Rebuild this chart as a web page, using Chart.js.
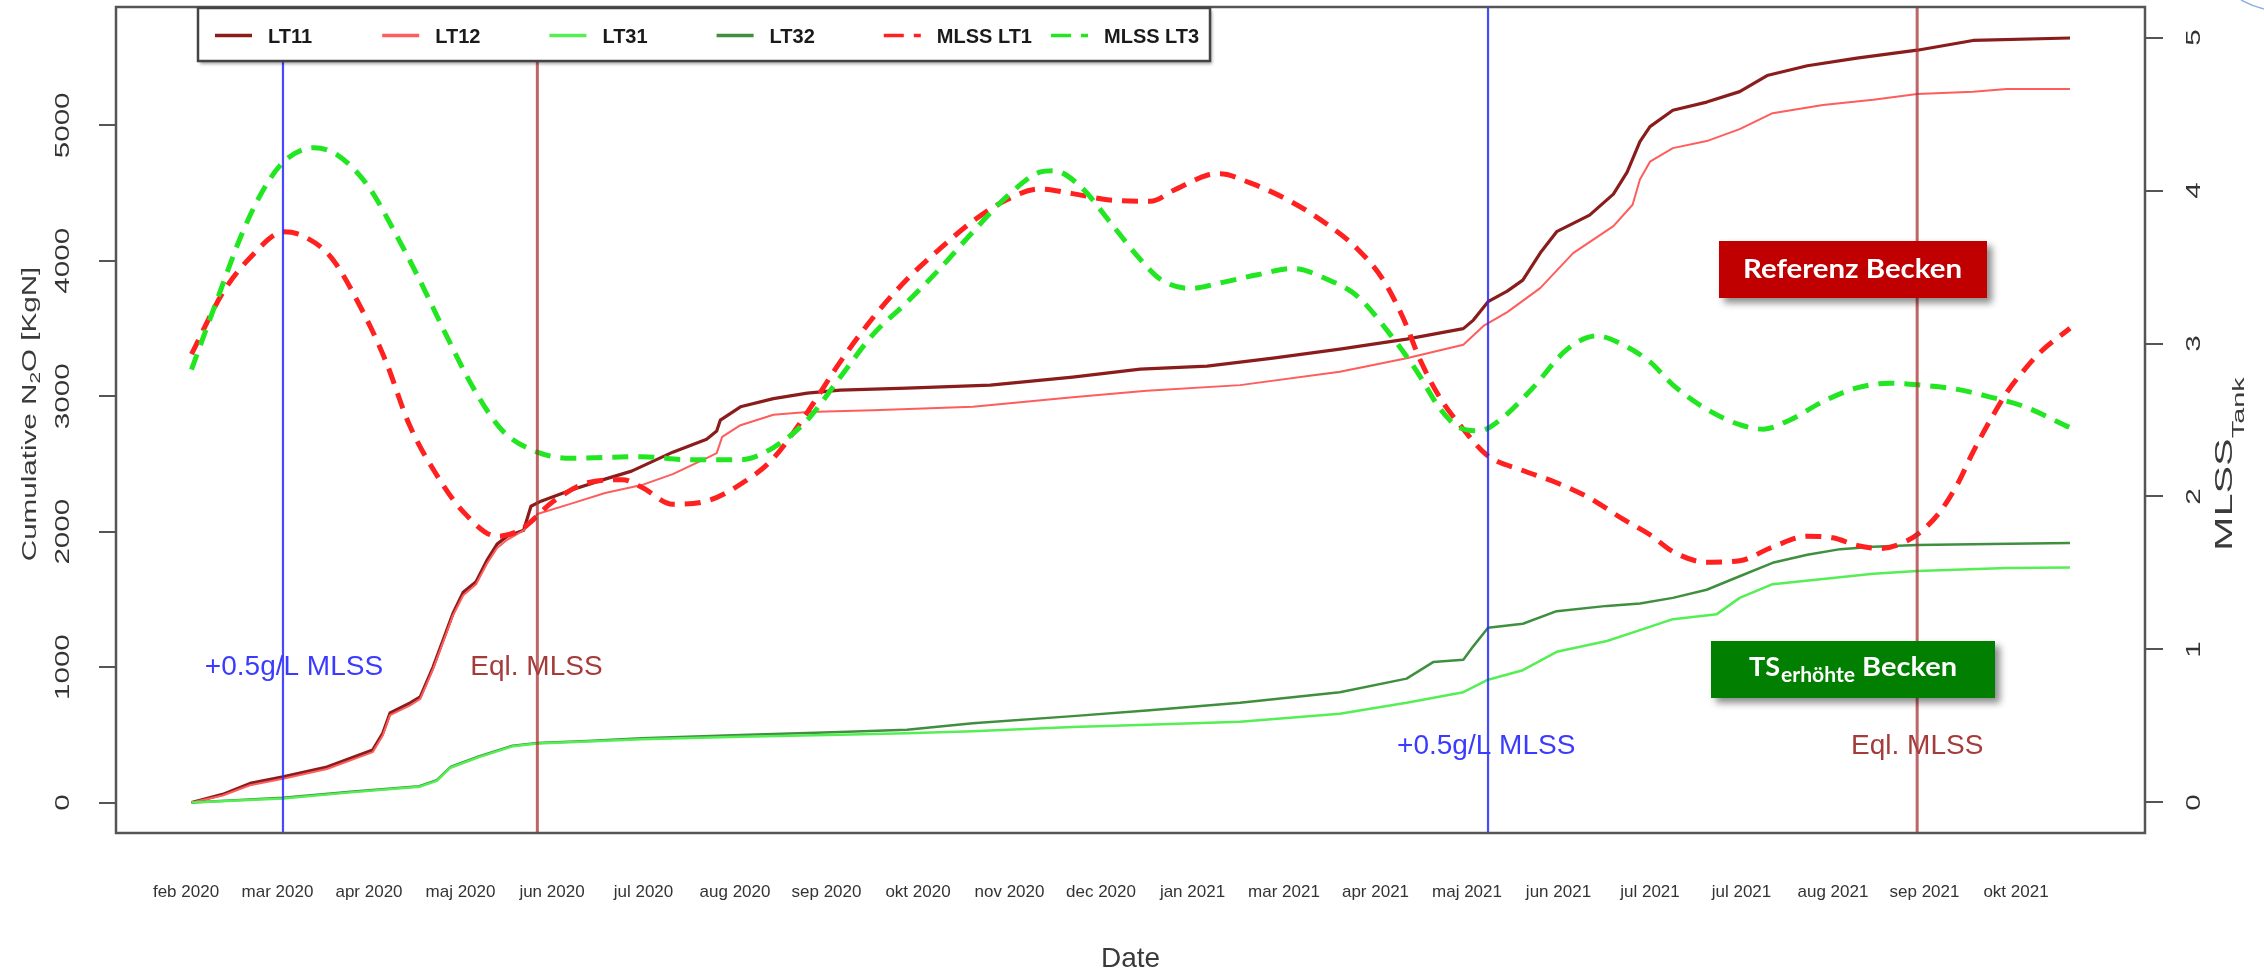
<!DOCTYPE html>
<html>
<head>
<meta charset="utf-8">
<script src="https://cdn.jsdelivr.net/npm/chart.js@4.4.1/dist/chart.umd.min.js"></script>
<style>
  html, body { margin: 0; padding: 0; background: #fff; }
  #wrap { width: 2264px; height: 979px; }
</style>
</head>
<body>
<div id="wrap"><canvas id="c" width="2264" height="979"></canvas></div>
<script>
// Axis tick labels (one per tick position 0..20 on the time axis)
const tickLabels = ['feb 2020', 'mar 2020', 'apr 2020', 'maj 2020', 'jun 2020', 'jul 2020', 'aug 2020',
  'sep 2020', 'okt 2020', 'nov 2020', 'dec 2020', 'jan 2021', 'mar 2021', 'apr 2021', 'maj 2021',
  'jun 2021', 'jul 2021', 'jul 2021', 'aug 2021', 'sep 2021', 'okt 2021'];
const leftTicks = [0, 1000, 2000, 3000, 4000, 5000];
const rightTicks = [0, 1, 2, 3, 4, 5];

// Cumulative N2O [kgN] per tank: [time position, value]
const lt11 = [[0.06,0],[0.40,60],[0.70,141],[1.06,189],[1.54,262],[2.04,387],[2.15,511],[2.23,661],[2.45,736],
  [2.56,780],[2.70,1000],[2.81,1200],[2.92,1400],[3.03,1553],[3.17,1630],[3.29,1790],[3.40,1908],[3.51,1967],
  [3.69,2011],[3.77,2188],[3.88,2225],[4.21,2307],[4.58,2388],[4.87,2447],[5.32,2587],[5.69,2683],[5.80,2743],
  [5.84,2824],[6.06,2922],[6.42,2982],[6.79,3023],[7.15,3045],[7.88,3060],[8.79,3082],[9.69,3141],[10.43,3200],
  [11.16,3222],[11.88,3281],[12.61,3348],[13.34,3422],[13.96,3499],[14.07,3562],[14.23,3698],[14.44,3776],
  [14.61,3857],[14.80,4057],[14.98,4215],[15.34,4337],[15.60,4492],[15.75,4655],[15.89,4880],[16.00,4991],
  [16.25,5112],[16.62,5172],[16.98,5249],[17.28,5368],[17.72,5440],[18.26,5496],[18.92,5555],[19.53,5627],
  [20.59,5645]];
const lt12 = [[0.06,0],[0.40,52],[0.70,128],[1.06,176],[1.54,248],[2.04,372],[2.15,495],[2.23,645],[2.45,718],
  [2.56,765],[2.70,985],[2.81,1185],[2.92,1385],[3.03,1530],[3.17,1612],[3.29,1765],[3.40,1880],[3.51,1940],
  [3.69,2010],[3.84,2130],[4.21,2207],[4.58,2285],[4.98,2344],[5.32,2425],[5.69,2543],[5.80,2580],[5.86,2700],
  [6.06,2786],[6.42,2863],[6.79,2883],[7.51,2897],[8.60,2922],[9.69,2993],[10.50,3040],[11.52,3082],
  [12.61,3181],[13.34,3281],[13.96,3380],[14.18,3519],[14.44,3621],[14.80,3798],[15.16,4057],[15.60,4256],
  [15.81,4414],[15.89,4600],[16.00,4732],[16.25,4832],[16.62,4884],[16.98,4972],[17.34,5090],[17.89,5150],
  [18.44,5189],[18.92,5231],[19.53,5249],[19.90,5268],[20.59,5268]];
const lt31 = [[0.06,0],[1.06,30],[1.80,75],[2.55,116],[2.74,160],[2.89,257],[3.20,335],[3.57,415],[3.84,435],
  [4.39,450],[4.98,468],[6.06,485],[7.15,500],[7.88,512],[8.60,527],[9.69,557],[10.50,575],[11.52,597],
  [12.61,656],[13.34,736],[13.96,815],[14.23,907],[14.61,977],[14.98,1113],[15.53,1193],[15.89,1273],
  [16.25,1354],[16.73,1391],[16.98,1511],[17.34,1612],[17.89,1650],[18.44,1690],[18.92,1710],[19.90,1731],
  [20.59,1735]];
const lt32 = [[0.06,0],[1.06,35],[1.80,80],[2.55,121],[2.74,165],[2.89,262],[3.20,340],[3.57,420],[3.84,440],
  [4.39,455],[4.98,475],[6.06,498],[7.15,520],[7.88,537],[8.60,586],[9.69,638],[10.50,680],[11.52,736],
  [12.61,815],[13.34,915],[13.63,1037],[13.96,1054],[14.07,1155],[14.23,1290],[14.61,1320],[14.98,1413],
  [15.53,1452],[15.89,1470],[16.25,1511],[16.62,1571],[16.98,1671],[17.34,1770],[17.72,1829],[18.08,1871],
  [18.44,1889],[18.92,1901],[19.72,1908],[20.59,1917]];

// Mixed liquor suspended solids per tank [g/L]: [time position, value]
const mlssLT1 = [[0.06,2.93],[0.40,3.33],[0.70,3.56],[1.07,3.73],[1.29,3.70],[1.59,3.56],[1.88,3.27],[2.18,2.89],
  [2.44,2.47],[2.73,2.15],[3.03,1.90],[3.40,1.74],[3.65,1.78],[4.02,1.97],[4.39,2.09],[4.77,2.11],[4.98,2.06],
  [5.32,1.95],[5.69,1.97],[6.06,2.08],[6.42,2.25],[6.79,2.55],[7.15,2.88],[7.51,3.17],[7.88,3.42],[8.24,3.62],
  [8.60,3.80],[8.97,3.94],[9.33,4.01],[9.69,3.98],[10.07,3.94],[10.54,3.93],[10.79,4.00],[11.16,4.10],
  [11.30,4.11],[11.63,4.05],[12.07,3.93],[12.47,3.78],[12.80,3.62],[13.08,3.42],[13.30,3.17],[13.49,2.89],
  [13.71,2.64],[13.92,2.47],[14.22,2.27],[14.61,2.17],[14.98,2.09],[15.34,1.99],[15.71,1.85],[16.00,1.75],
  [16.25,1.64],[16.62,1.57],[16.98,1.58],[17.34,1.67],[17.72,1.74],[18.00,1.73],[18.26,1.68],[18.51,1.66],
  [18.81,1.71],[18.98,1.78],[19.17,1.90],[19.36,2.08],[19.53,2.29],[19.72,2.50],[19.90,2.68],[20.08,2.82],
  [20.26,2.94],[20.59,3.10]];
const mlssLT3 = [[0.06,2.83],[0.33,3.27],[0.62,3.73],[0.85,4.01],[1.07,4.19],[1.40,4.28],[1.66,4.23],[1.99,4.03],
  [2.28,3.73],[2.55,3.42],[2.84,3.06],[3.14,2.71],[3.46,2.43],[3.84,2.29],[4.21,2.25],[4.98,2.26],[5.51,2.24],
  [6.06,2.24],[6.42,2.32],[6.79,2.50],[7.15,2.78],[7.51,3.06],[7.88,3.27],[8.24,3.49],[8.60,3.73],[8.97,3.96],
  [9.33,4.12],[9.48,4.13],[9.77,4.03],[10.13,3.77],[10.43,3.55],[10.65,3.42],[10.97,3.36],[11.33,3.40],
  [11.71,3.45],[12.10,3.49],[12.47,3.42],[12.80,3.31],[13.16,3.06],[13.45,2.82],[13.71,2.57],[13.92,2.45],
  [14.14,2.43],[14.36,2.50],[14.72,2.71],[15.09,2.96],[15.42,3.05],[15.71,2.99],[16.00,2.88],[16.25,2.73],
  [16.62,2.57],[16.98,2.47],[17.24,2.44],[17.53,2.50],[17.89,2.62],[18.26,2.71],[18.62,2.74],[18.92,2.73],
  [19.36,2.70],[19.72,2.65],[20.08,2.59],[20.59,2.45]];

// Operational events on the time axis and their captions
const eventAt = [1.06, 3.84, 14.23, 18.92];
const eventKind = ['add', 'eq', 'add', 'eq'];
const captionText = ['+0.5g/L MLSS', 'Eql. MLSS', '+0.5g/L MLSS', 'Eql. MLSS'];
const captionAt = [1.18, 3.83, 14.21, 18.92];
const captionLevel = [1000, 1000, 415, 415];

const SANS = '"Liberation Sans", Arial, sans-serif';
const BOXFONT = 'Lato, "Open Sans", sans-serif';

const toXY = arr => arr.map(p => ({ x: p[0], y: p[1] }));

const style = {
  add: { line: 'rgba(40,40,255,0.85)', text: '#3b3bff', width: 2.2 },
  eq:  { line: 'rgba(170,50,50,0.75)', text: '#a53c3c', width: 3 }
};

// Draws text rotated to read bottom-to-top, stretched along the reading direction
function upText(ctx, parts, bx, cy, stretch, anchor) {
  ctx.save();
  let total = 0;
  parts.forEach(p => { ctx.font = p.font; p.w = ctx.measureText(p.text).width; total += p.w; });
  ctx.translate(bx, cy);
  ctx.rotate(-Math.PI / 2);
  ctx.scale(stretch, 1);
  let x = anchor === 'start' ? 0 : -total / 2;
  parts.forEach(p => {
    ctx.font = p.font; ctx.fillStyle = p.color; ctx.textAlign = 'left'; ctx.textBaseline = 'alphabetic';
    ctx.fillText(p.text, x, p.dy || 0);
    x += p.w;
  });
  ctx.restore();
}

// Draws text squeezed/stretched horizontally to a given width, starting at x
function fitText(ctx, text, x, baseline, font, width, color) {
  ctx.save();
  ctx.font = font;
  const w = ctx.measureText(text).width;
  ctx.translate(x, baseline);
  ctx.scale(width / w, 1);
  ctx.fillStyle = color; ctx.textAlign = 'left'; ctx.textBaseline = 'alphabetic';
  ctx.fillText(text, 0, 0);
  ctx.restore();
}

function labelBox(ctx, x, y, w, h, fill) {
  ctx.save();
  ctx.shadowColor = 'rgba(0,0,0,0.45)';
  ctx.shadowBlur = 7; ctx.shadowOffsetX = 5; ctx.shadowOffsetY = 5;
  ctx.fillStyle = fill;
  ctx.fillRect(x, y, w, h);
  ctx.restore();
}

const decor = {
  id: 'decor',
  beforeDraw(chart) {
    const c = chart.ctx;
    c.save(); c.fillStyle = '#fff'; c.fillRect(0, 0, chart.width, chart.height); c.restore();
  },
  afterDatasetsDraw(chart) {
    const ctx = chart.ctx, a = chart.chartArea;
    const sx = chart.scales.x, sy = chart.scales.y, sy1 = chart.scales.y1;

    // event lines and captions
    eventAt.forEach((t, i) => {
      const st = style[eventKind[i]];
      const px = sx.getPixelForValue(t);
      ctx.save();
      ctx.strokeStyle = st.line; ctx.lineWidth = st.width;
      ctx.beginPath(); ctx.moveTo(px, a.top); ctx.lineTo(px, a.bottom); ctx.stroke();
      ctx.restore();
    });
    captionText.forEach((txt, i) => {
      const st = style[eventKind[i]];
      ctx.save();
      ctx.font = '28px ' + SANS; ctx.fillStyle = st.text;
      ctx.textAlign = 'center'; ctx.textBaseline = 'middle';
      ctx.fillText(txt, sx.getPixelForValue(captionAt[i]), sy.getPixelForValue(captionLevel[i]));
      ctx.restore();
    });

    // plot frame
    ctx.save();
    ctx.strokeStyle = '#555'; ctx.lineWidth = 2.5;
    ctx.strokeRect(a.left, a.top, a.right - a.left, a.bottom - a.top);
    ctx.restore();

    // legend
    const lx = 198, ly = 8, lw = 1012, lh = 53;
    ctx.save();
    ctx.shadowColor = 'rgba(0,0,0,0.35)'; ctx.shadowBlur = 3; ctx.shadowOffsetX = 2; ctx.shadowOffsetY = 3;
    ctx.fillStyle = '#fff'; ctx.fillRect(lx, ly, lw, lh);
    ctx.restore();
    ctx.save();
    ctx.strokeStyle = '#444'; ctx.lineWidth = 2.5; ctx.strokeRect(lx, ly, lw, lh);
    chart.data.datasets.forEach((ds, i) => {
      const x = 215 + i * 167.2, y = 35.5;
      ctx.strokeStyle = ds.borderColor; ctx.lineWidth = 3.5;
      ctx.setLineDash(ds.borderDash ? [20, 10] : []);
      ctx.beginPath(); ctx.moveTo(x, y); ctx.lineTo(x + 37, y); ctx.stroke();
      ctx.setLineDash([]);
      ctx.font = 'bold 20px ' + SANS; ctx.fillStyle = '#1a1a1a';
      ctx.textAlign = 'left'; ctx.textBaseline = 'alphabetic';
      ctx.fillText(ds.label, x + 53, 43);
    });
    ctx.restore();

    // y tick labels (parallel to the axes)
    sy.ticks.forEach(t => {
      upText(ctx, [{ text: String(t.value), font: '20px ' + SANS, color: '#333' }], 68.5, sy.getPixelForValue(t.value), 1.48, 'center');
    });
    sy1.ticks.forEach(t => {
      upText(ctx, [{ text: String(t.value), font: '20px ' + SANS, color: '#333' }], 2200, sy1.getPixelForValue(t.value), 1.48, 'center');
    });

    // axis titles
    upText(ctx, [
      { text: 'Cumulative N', font: '20px ' + SANS, color: '#3a3a3a' },
      { text: '2', font: '14px ' + SANS, color: '#3a3a3a', dy: 4 },
      { text: 'O [KgN]', font: '20px ' + SANS, color: '#3a3a3a' }
    ], 36, 414, 1.48, 'center');
    upText(ctx, [
      { text: 'MLSS', font: '23px ' + SANS, color: '#3a3a3a' },
      { text: 'Tank', font: '16px ' + SANS, color: '#3a3a3a', dy: 11.5 }
    ], 2232, 551, 1.8, 'start');
    ctx.save();
    ctx.font = '28px ' + SANS; ctx.fillStyle = '#3a3a3a';
    ctx.textAlign = 'center'; ctx.textBaseline = 'alphabetic';
    ctx.fillText('Date', (a.left + a.right) / 2, 967);
    ctx.restore();

    // tank group labels
    labelBox(ctx, 1719, 241, 268, 57, '#c00000');
    fitText(ctx, 'Referenz Becken', 1743, 278, 'bold 27px ' + BOXFONT, 219, '#fff');
    labelBox(ctx, 1711, 641, 284, 57, '#007f00');
    fitText(ctx, 'TS', 1749, 676, 'bold 27px ' + BOXFONT, 31, '#fff');
    fitText(ctx, 'erhöhte', 1781, 682, 'bold 20px ' + BOXFONT, 74, '#fff');
    fitText(ctx, 'Becken', 1862, 676, 'bold 27px ' + BOXFONT, 95, '#fff');

    // slide ornament in the corner
    ctx.save();
    ctx.strokeStyle = '#8fb4e3'; ctx.lineWidth = 1.5;
    ctx.beginPath(); ctx.moveTo(2241, 0); ctx.quadraticCurveTo(2252, 6, 2264, 9); ctx.stroke();
    ctx.restore();
  }
};

const fixedTicks = values => scale => { scale.ticks = values.map(v => ({ value: v })); };

const chart = new Chart(document.getElementById('c'), {
  type: 'line',
  data: {
    datasets: [
      { label: 'LT11', data: toXY(lt11), yAxisID: 'y', borderColor: '#8b1c1c', borderWidth: 3.2, order: 5 },
      { label: 'LT12', data: toXY(lt12), yAxisID: 'y', borderColor: '#ff5c5c', borderWidth: 2, order: 4 },
      { label: 'LT31', data: toXY(lt31), yAxisID: 'y', borderColor: '#55ee55', borderWidth: 2.5, order: 2 },
      { label: 'LT32', data: toXY(lt32), yAxisID: 'y', borderColor: '#3f8f3f', borderWidth: 2.5, order: 3 },
      { label: 'MLSS LT1', data: toXY(mlssLT1), yAxisID: 'y1', borderColor: '#ff2020', borderWidth: 5,
        borderDash: [16, 10], cubicInterpolationMode: 'monotone', order: 1 },
      { label: 'MLSS LT3', data: toXY(mlssLT3), yAxisID: 'y1', borderColor: '#22e622', borderWidth: 5,
        borderDash: [16, 10], cubicInterpolationMode: 'monotone', order: 0 }
    ]
  },
  options: {
    responsive: false,
    animation: false,
    devicePixelRatio: 1,
    layout: { padding: { top: 7, left: 0, right: 0, bottom: 0 } },
    elements: { point: { radius: 0 }, line: { tension: 0, borderCapStyle: 'butt', borderJoinStyle: 'round' } },
    plugins: { legend: { display: false }, tooltip: { enabled: false } },
    scales: {
      x: {
        type: 'linear', min: -0.765, max: 21.41,
        afterBuildTicks: fixedTicks(tickLabels.map((_, i) => i)),
        afterFit: s => { s.height = 146; },
        grid: { display: false, drawTicks: false },
        border: { display: false },
        ticks: {
          autoSkip: false, maxRotation: 0, minRotation: 0, padding: 49,
          color: '#333', font: { family: SANS, size: 17 },
          callback: (v, i) => tickLabels[i]
        }
      },
      y: {
        type: 'linear', position: 'left', min: -225, max: 5874,
        afterBuildTicks: fixedTicks(leftTicks),
        afterFit: s => { s.width = 116; },
        grid: { display: true, drawOnChartArea: false, drawTicks: true, tickLength: 17, color: '#555', lineWidth: 2 },
        border: { display: false },
        ticks: { display: false }
      },
      y1: {
        type: 'linear', position: 'right', min: -0.2, max: 5.2,
        afterBuildTicks: fixedTicks(rightTicks),
        afterFit: s => { s.width = 119; },
        grid: { display: true, drawOnChartArea: false, drawTicks: true, tickLength: 18, color: '#555', lineWidth: 2 },
        border: { display: false },
        ticks: { display: false }
      }
    }
  },
  plugins: [decor]
});
</script>
</body>
</html>
